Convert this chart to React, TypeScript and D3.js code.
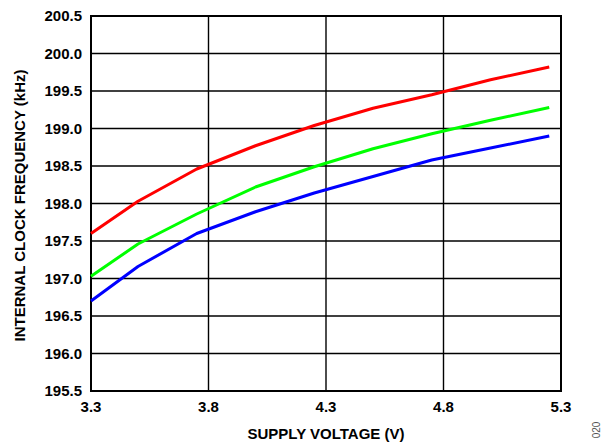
import React from "react";
import * as d3 from "d3";

const voltages = [3.3, 3.5, 3.75, 4.0, 4.25, 4.5, 4.75, 5.0, 5.25];
const redSeries = [197.6, 198.03, 198.46, 198.77, 199.04, 199.27, 199.45, 199.65, 199.82];
const greenSeries = [197.03, 197.46, 197.86, 198.22, 198.49, 198.73, 198.93, 199.11, 199.28];
const blueSeries = [196.7, 197.16, 197.6, 197.89, 198.14, 198.36, 198.58, 198.74, 198.9];
const xTicks = [3.3, 3.8, 4.3, 4.8, 5.3];
const yTicks = [195.5, 196.0, 196.5, 197.0, 197.5, 198.0, 198.5, 199.0, 199.5, 200.0, 200.5];

const series = [
  { name: "red", color: "#ff0000", values: redSeries },
  { name: "green", color: "#00ff00", values: greenSeries },
  { name: "blue", color: "#0000ff", values: blueSeries },
];

export default function App() {
  const W = 613;
  const H = 446;
  const left = 91, right = 561, top = 16, bottom = 391;
  const x = d3.scaleLinear().domain([3.3, 5.3]).range([left, right]);
  const y = d3.scaleLinear().domain([195.5, 200.5]).range([bottom, top]);
  const line = d3
    .line<[number, number]>()
    .x((d) => x(d[0]))
    .y((d) => y(d[1]))
    .curve(d3.curveLinear);
  const font = "'Liberation Sans', Arial, sans-serif";

  return (
    <svg
      width={W}
      height={H}
      style={{ position: "absolute", left: 0, top: 0, background: "#fff" }}
      fontFamily={font}
    >
      <rect x={0} y={0} width={W} height={H} fill="#fff" />
      {yTicks.map((t) => (
        <line key={"gy" + t} x1={left} x2={right} y1={y(t)} y2={y(t)} stroke="#000" strokeWidth={1.4} />
      ))}
      {xTicks.map((t) => (
        <line key={"gx" + t} x1={x(t)} x2={x(t)} y1={top} y2={bottom} stroke="#000" strokeWidth={1.4} />
      ))}
      <rect x={left} y={top} width={right - left} height={bottom - top} fill="none" stroke="#000" strokeWidth={2} />
      {series.map((s) => (
        <path
          key={s.name}
          d={line(voltages.map((v, i) => [v, s.values[i]] as [number, number])) || ""}
          fill="none"
          stroke={s.color}
          strokeWidth={3}
          strokeLinejoin="round"
        />
      ))}
      {yTicks.map((t) => (
        <text
          key={"ty" + t}
          x={left - 9}
          y={y(t)}
          dy="0.36em"
          textAnchor="end"
          fontSize={15}
          fontWeight="bold"
          fill="#000"
        >
          {t.toFixed(1)}
        </text>
      ))}
      {xTicks.map((t) => (
        <text
          key={"tx" + t}
          x={x(t)}
          y={412}
          textAnchor="middle"
          fontSize={15}
          fontWeight="bold"
          fill="#000"
        >
          {t.toFixed(1)}
        </text>
      ))}
      <text x={(left + right) / 2} y={439} textAnchor="middle" fontSize={15} fontWeight="bold" fill="#000">
        SUPPLY VOLTAGE (V)
      </text>
      <text
        transform={`translate(25, ${(top + bottom) / 2 + 2}) rotate(-90)`}
        textAnchor="middle"
        fontSize={15}
        fontWeight="bold"
        fill="#000"
      >
        INTERNAL CLOCK FREQUENCY (kHz)
      </text>
      <text
        transform="translate(600, 430) rotate(-90)"
        textAnchor="middle"
        fontSize={10}
        fill="#555"
      >
        020
      </text>
    </svg>
  );
}
